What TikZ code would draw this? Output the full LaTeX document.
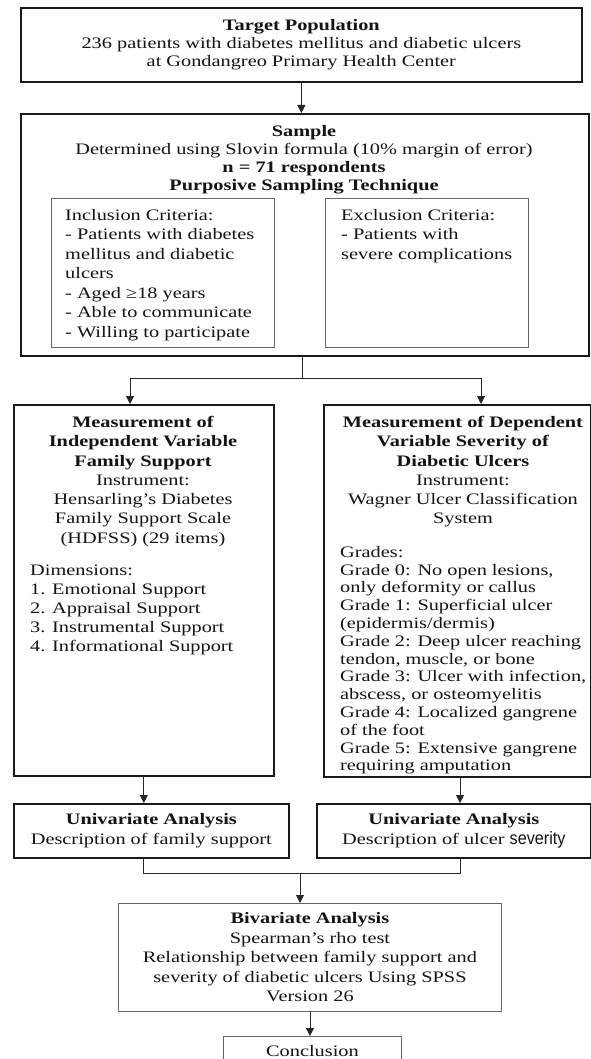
\documentclass[tikz,border=0pt]{standalone}
\usepackage{fontspec}
\setmainfont{Liberation Serif}[FakeStretch=1.27]
\newfontfamily\sevfont{Liberation Sans}[FakeStretch=0.9]
\usetikzlibrary{arrows.meta}
\begin{document}
\begin{tikzpicture}[x=1pt,y=-1pt,
  thickbox/.style={draw=black!90, line width=1.7pt, inner sep=0pt, anchor=north west, text=black!92, align=center, font=\fontsize{16}{19.4}\selectfont},
  thinbox/.style={draw=black!60, line width=0.9pt, inner sep=0pt, anchor=north west, text=black!92, align=center, font=\fontsize{16}{19.4}\selectfont},
  txt/.style={inner sep=0pt, text=black!92, font=\fontsize{16}{19.3}\selectfont},
  conn/.style={draw=black!85, line width=0.9pt},
  arr/.style={conn, -{Triangle[length=8pt,width=8pt]}},
]
\useasboundingbox (0,0) rectangle (591,1059);
\clip (0,0) rectangle (591,1059);
\fill[white] (0,0) rectangle (591,1059);

% Target population
\node[thickbox, minimum width=561pt, minimum height=74pt, font=\fontsize{16}{18.3}\selectfont] (target) at (20,7)
  {\textbf{Target Population}\\236 patients with diabetes mellitus and diabetic ulcers\\at Gondangreo Primary Health Center};

% Sample
\node[thickbox, minimum width=568pt, minimum height=242pt] (sample) at (20,113) {};
\node[txt, align=center, anchor=north, font=\fontsize{16}{17.9}\selectfont] (samplet) at (304,125)
  {\textbf{Sample}\\Determined using Slovin formula (10\% margin of error)\\\textbf{n = 71 respondents}\\\textbf{Purposive Sampling Technique}};

\node[thinbox, minimum width=223pt, minimum height=149pt] (incl) at (51,198) {};
\node[txt, align=left, anchor=north west, font=\fontsize{16}{19.5}\selectfont] (inclt) at (65,209)
  {Inclusion Criteria:\\- Patients with diabetes\\mellitus and diabetic\\ulcers\\- Aged ≥18 years\\- Able to communicate\\- Willing to participate};

\node[thinbox, minimum width=203pt, minimum height=149pt] (excl) at (325,198) {};
\node[txt, align=left, anchor=north west, font=\fontsize{16}{19.5}\selectfont] (exclt) at (341,209)
  {Exclusion Criteria:\\- Patients with\\severe complications};

% Measurement boxes
\node[thickbox, minimum width=260pt, minimum height=371pt] (meas1) at (13,404) {};
\node[txt, align=center, anchor=north] (meas1t) at (143,416)
  {\textbf{Measurement of}\\\textbf{Independent Variable}\\\textbf{Family Support}\\Instrument:\\Hensarling's Diabetes\\Family Support Scale\\(HDFSS) (29 items)};
\node[txt, align=left, anchor=north west, font=\fontsize{16}{19}\selectfont] (meas1d) at (30,565)
  {Dimensions:\\1. Emotional Support\\2. Appraisal Support\\3. Instrumental Support\\4. Informational Support};

\node[thickbox, minimum width=267pt, minimum height=372pt] (meas2) at (323,404) {};
\node[txt, align=center, anchor=north] (meas2t) at (463,416)
  {\textbf{Measurement of Dependent}\\\textbf{Variable Severity of}\\\textbf{Diabetic Ulcers}\\Instrument:\\Wagner Ulcer Classification\\System};
\node[txt, align=left, anchor=north west, font=\fontsize{16}{17.8}\selectfont] (meas2g) at (340,546)
  {Grades:\\Grade 0: No open lesions,\\only deformity or callus\\Grade 1: Superficial ulcer\\(epidermis/dermis)\\Grade 2: Deep ulcer reaching\\tendon, muscle, or bone\\Grade 3: Ulcer with infection,\\abscess, or osteomyelitis\\Grade 4: Localized gangrene\\of the foot\\Grade 5: Extensive gangrene\\requiring amputation};

% Univariate
\node[thickbox, minimum width=275pt, minimum height=54pt, font=\fontsize{16}{20}\selectfont] (uni1) at (13,803)
  {\textbf{Univariate Analysis}\\Description of family support};
\node[thickbox, minimum width=274pt, minimum height=54pt, font=\fontsize{16}{20}\selectfont] (uni2) at (316,803)
  {\textbf{Univariate Analysis}\\Description of ulcer {\sevfont\fontsize{18}{20}\selectfont severity}};

% Bivariate
\node[thinbox, minimum width=383pt, minimum height=108pt, font=\fontsize{16}{19.5}\selectfont] (biv) at (118,903)
  {\textbf{Bivariate Analysis}\\Spearman's rho test\\Relationship between family support and\\severity of diabetic ulcers Using SPSS\\Version 26};

% Conclusion
\node[thinbox, minimum width=178pt, minimum height=30pt] (concl) at (223,1036) {Conclusion};

% Connectors
\draw[arr] (target.south) -- (target.south |- sample.north);
\coordinate (split) at (302,378);
\coordinate (ldrop) at (130,378);
\coordinate (rdrop) at (481,378);
\draw[conn] (sample.south -| split) -- (split);
\draw[conn] (ldrop) -- (rdrop);
\draw[arr] (ldrop) -- (ldrop |- meas1.north);
\draw[arr] (rdrop) -- (rdrop |- meas2.north);

\coordinate (rdown) at (460,790);
\draw[arr] (meas1.south) -- (meas1.south |- uni1.north);
\draw[arr] (rdown |- meas2.south) -- (rdown |- uni2.north);

\coordinate (mergeL) at (143,873);
\coordinate (mergeR) at (460,873);
\coordinate (mergeM) at (300,873);
\draw[conn] (mergeL |- uni1.south) -- (mergeL) -- (mergeR) -- (mergeR |- uni2.south);
\draw[arr] (mergeM) -- (mergeM |- biv.north);
\draw[arr] (biv.south) -- (biv.south |- concl.north);
\end{tikzpicture}
\end{document}
